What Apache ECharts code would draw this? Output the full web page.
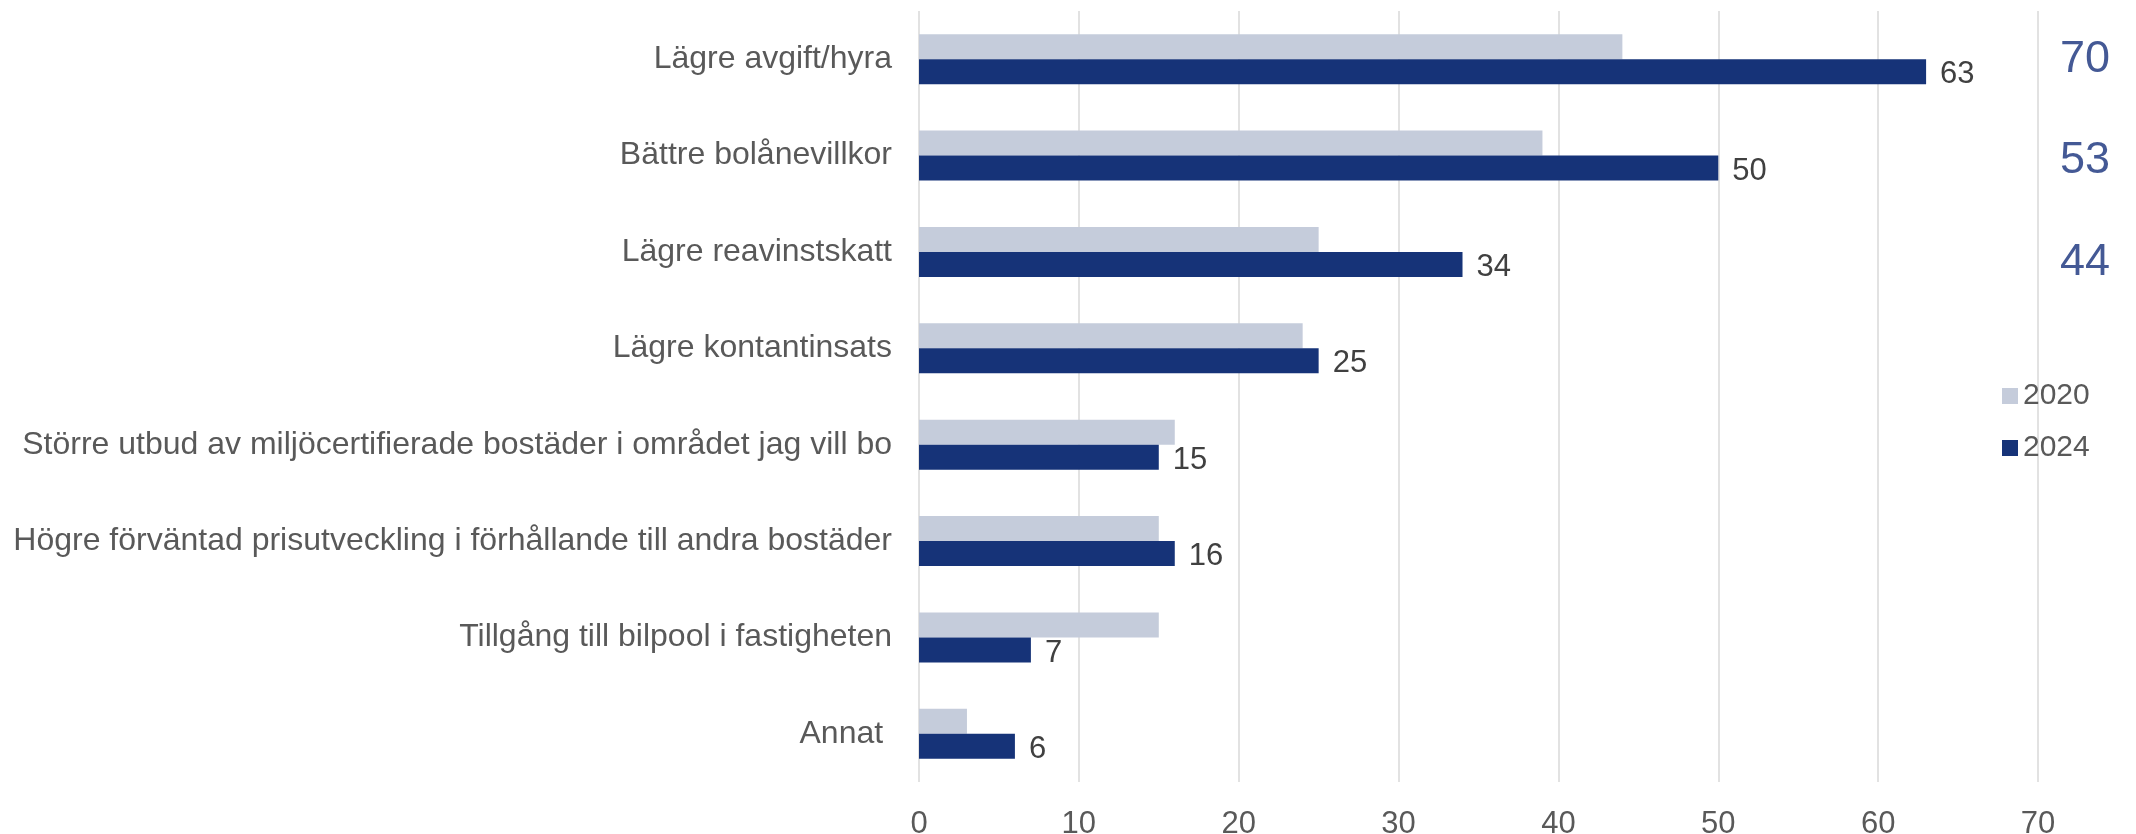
<!DOCTYPE html>
<html>
<head>
<meta charset="utf-8">
<script src="https://cdn.jsdelivr.net/npm/echarts@6/dist/echarts.min.js"></script>
<style>
  html, body { margin: 0; padding: 0; background: #fff; }
  #myChart { width: 2136px; height: 834px; }
</style>
</head>
<body>
<div id="myChart"></div>
<script>
// kategorier, uppifrån och ned
var categories = [
  'Lägre avgift/hyra',
  'Bättre bolånevillkor',
  'Lägre reavinstskatt',
  'Lägre kontantinsats',
  'Större utbud av miljöcertifierade bostäder i området jag vill bo',
  'Högre förväntad prisutveckling i förhållande till andra bostäder',
  'Tillgång till bilpool i fastigheten',
  'Annat '
];
var values2020 = [44, 39, 25, 24, 16, 15, 15, 3];
var values2024 = [63, 50, 34, 25, 15, 16, 7, 6];
// siffrorna till höger om diagrammet
var sideValues = [70, 53, 44];
var xTicks = [0, 10, 20, 30, 40, 50, 60, 70];

var font = '"Liberation Sans", Arial, sans-serif';
var sideOffsets = [[0, 0], [0, 5], [0, 11]];

var myChart = echarts.init(document.getElementById('myChart'));
myChart.setOption({
  animation: false,
  textStyle: { fontFamily: font },
  grid: { left: 919, right: 98, top: 11, bottom: 52, outerBoundsMode: 'none' },
  legend: {
    orient: 'vertical',
    left: 1997,
    top: 376,
    itemWidth: 16,
    itemHeight: 16,
    itemGap: 22,
    icon: 'rect',
    data: ['2020', '2024'],
    textStyle: { fontSize: 30, lineHeight: 30, color: '#595959', fontFamily: font }
  },
  xAxis: {
    type: 'value',
    min: xTicks[0],
    max: xTicks[xTicks.length - 1],
    interval: 10,
    axisLine: { show: false },
    axisTick: { show: false },
    splitLine: { lineStyle: { color: '#d9d9d9', width: 1.5 } },
    axisLabel: { fontSize: 31, color: '#595959', margin: 27, fontFamily: font }
  },
  yAxis: {
    type: 'category',
    inverse: true,
    data: categories,
    axisLine: { show: false },
    axisTick: { show: false },
    axisLabel: { fontSize: 32, color: '#595959', margin: 27, fontFamily: font }
  },
  series: [
    {
      name: '2020',
      type: 'bar',
      data: values2020,
      barGap: '0%',
      barCategoryGap: '48%',
      itemStyle: { color: '#c5ccdb' }
    },
    {
      name: '2024',
      type: 'bar',
      data: values2024,
      itemStyle: { color: '#163378' },
      label: {
        show: true,
        position: 'right',
        distance: 14,
        offset: [0, 3],
        fontSize: 31,
        color: '#404040',
        fontFamily: font
      }
    },
    {
      name: 'side',
      type: 'scatter',
      symbolSize: 0,
      silent: true,
      clip: false,
      data: sideValues.map(function (v, i) {
        return {
          value: [xTicks[xTicks.length - 1], i],
          label: { offset: sideOffsets[i], formatter: String(v) }
        };
      }),
      label: {
        show: true,
        position: 'right',
        distance: 22,
        fontSize: 45,
        color: '#15307a',
        fontFamily: font
      }
    }
  ]
});
</script>
</body>
</html>
